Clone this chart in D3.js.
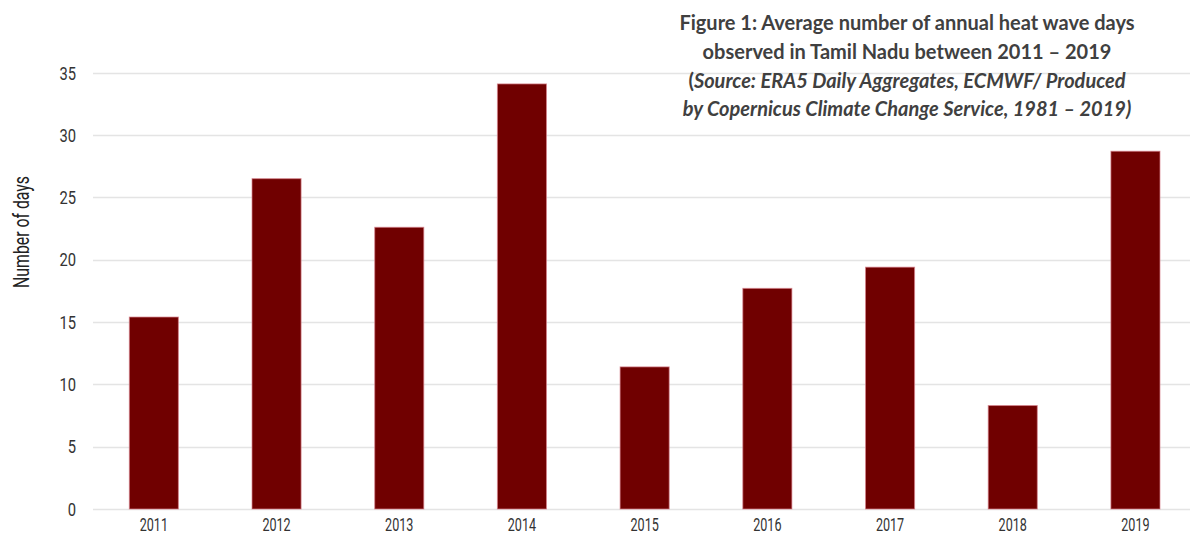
<!DOCTYPE html>
<html>
<head>
<meta charset="utf-8">
<script src="https://cdn.jsdelivr.net/npm/d3@7"></script>
<style>
  body { margin: 0; background: #fff; }
  .tick text { font-family: "Roboto", sans-serif; fill: #333; }
  .title { font-family: Lato, "Open Sans", sans-serif; font-weight: bold; fill: #404040; font-size: 20px; }
</style>
</head>
<body>
<svg id="chart"></svg>
<script>
// jahre und werte
const years = ['2011', '2012', '2013', '2014', '2015', '2016', '2017', '2018', '2019'];
const days = [15.4, 26.5, 22.6, 34.1, 11.4, 17.7, 19.4, 8.3, 28.7];
const yTicks = [0, 5, 10, 15, 20, 25, 30, 35];
const titleLines = [
    { text: 'Figure 1: Average number of annual heat wave days', italic: false },
    { text: 'observed in Tamil Nadu between 2011 \u2013 2019', italic: false },
    { text: null, italic: true },
    { text: 'by Copernicus Climate Change Service, 1981 \u2013 2019)', italic: true }
];

const W = 1190, H = 536;
const svg = d3.select('#chart').attr('width', W).attr('height', H);

const x = d3.scaleBand()
    .domain(years)
    .range([92.5, 1196.8])
    .paddingInner(0.6)
    .paddingOuter(0.3);

const y = d3.scaleLinear()
    .domain([0, 35])
    .range([509, 72.7]);

// gitterlinien
svg.append('g')
    .selectAll('line')
    .data(yTicks)
    .enter()
    .append('line')
    .attr('x1', 93)
    .attr('x2', W)
    .attr('y1', d => Math.round(y(d)) + 0.5)
    .attr('y2', d => Math.round(y(d)) + 0.5)
    .attr('stroke', '#e4e4e4')
    .attr('stroke-width', 1.5);

// y achse
const yAxis = svg.append('g')
    .attr('transform', 'translate(76,0)')
    .call(d3.axisLeft(y).tickValues(yTicks).tickSize(0).tickPadding(0));
yAxis.select('.domain').remove();
yAxis.selectAll('text')
    .attr('font-size', 18)
    .attr('dy', '0.35em')
    .attr('transform', 'scale(0.82,1)');

// x achse
const xAxis = svg.append('g')
    .attr('transform', 'translate(0,513)')
    .call(d3.axisBottom(x).tickSize(0).tickPadding(6));
xAxis.select('.domain').remove();
xAxis.selectAll('text')
    .attr('font-size', 17.5)
    .attr('transform', 'scale(0.72,1)');

svg.append('text')
    .attr('transform', 'translate(29,232) rotate(-90) scale(0.72,1)')
    .attr('text-anchor', 'middle')
    .style('font-family', 'Roboto, sans-serif')
    .style('font-size', '22px')
    .style('fill', '#222')
    .text('Number of days');

// balken
svg.append('g')
    .selectAll('rect')
    .data(days)
    .enter()
    .append('rect')
    .attr('x', (d, i) => x(years[i]))
    .attr('y', d => y(d))
    .attr('width', x.bandwidth())
    .attr('height', d => y(0) - y(d))
    .attr('fill', '#700000')
    .attr('stroke', 'rgba(215,130,140,0.7)')
    .attr('stroke-width', 1);

// titel
const title = svg.append('text')
    .attr('class', 'title')
    .attr('text-anchor', 'middle');

titleLines.forEach((l, i) => {
    const t = title.append('tspan')
        .attr('x', 907)
        .attr('y', 30 + i * 28.8);
    if (l.text === null) {
        t.append('tspan').text('(');
        t.append('tspan').attr('font-style', 'italic').text('Source: ERA5 Daily Aggregates, ECMWF/ Produced');
    } else {
        t.attr('font-style', l.italic ? 'italic' : 'normal').text(l.text);
    }
});
</script>
</body>
</html>
